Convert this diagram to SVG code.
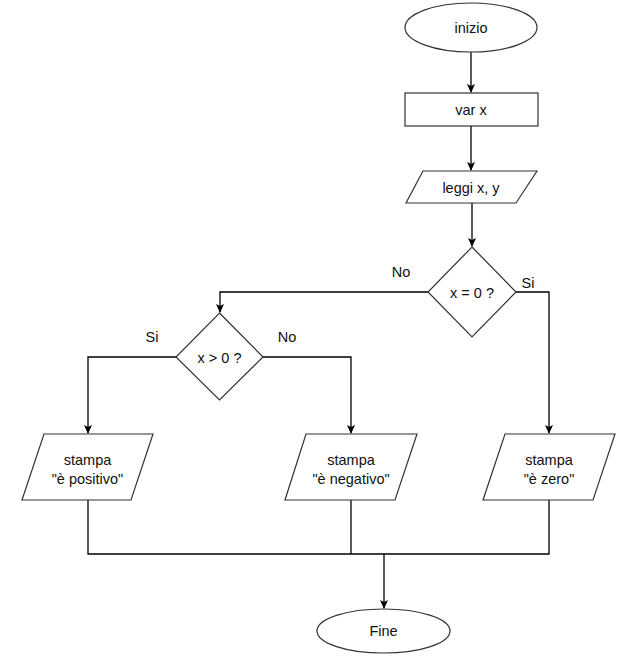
<svg xmlns="http://www.w3.org/2000/svg" width="621" height="667" viewBox="0 0 621 667">
<style>
.s{fill:#fff;stroke:#333;stroke-width:1.2}
.c{fill:none;stroke:#000;stroke-width:1.3}
text{font-family:"Liberation Sans",Arial,sans-serif;font-size:14.5px;fill:#111;text-anchor:middle}
</style>
<defs>
<marker id="a" markerWidth="10" markerHeight="10" refX="8" refY="5" orient="auto" markerUnits="userSpaceOnUse">
<path d="M0,1 L9,5 L0,9 L2,5 Z" fill="#000"/>
</marker>
</defs>
<rect width="621" height="667" fill="#fff"/>
<g id="connectors">
<path class="c" d="M471,52 V92" marker-end="url(#a)"/>
<path class="c" d="M471,126 V170" marker-end="url(#a)"/>
<path class="c" d="M472,203 V246" marker-end="url(#a)"/>
<path class="c" d="M428,292 H220 V312" marker-end="url(#a)"/>
<path class="c" d="M516,292 H549 V433" marker-end="url(#a)"/>
<path class="c" d="M176,357 H88 V433" marker-end="url(#a)"/>
<path class="c" d="M263,357 H351 V433" marker-end="url(#a)"/>
<path class="c" d="M88,500 V554 H549 V500"/>
<path class="c" d="M351,500 V554"/>
<path class="c" d="M384,554 V608" marker-end="url(#a)"/>
<text x="401" y="277">No</text>
<text x="528" y="288">Si</text>
<text x="152" y="342">Si</text>
<text x="287" y="342">No</text>
</g>
<g id="inizio">
<ellipse class="s" cx="471" cy="27.5" rx="66" ry="24.5"/>
<text x="471" y="32.5">inizio</text>
</g>
<g id="varx">
<rect class="s" x="405" y="93" width="133" height="33"/>
<text x="471" y="115">var x</text>
</g>
<g id="leggi">
<polygon class="s" points="423,171 537,171 516,203 406,203"/>
<text x="471" y="192.5">leggi x, y</text>
</g>
<g id="cond1">
<polygon class="s" points="472,247 516,292 472,337 428,292"/>
<text x="472" y="297.5">x = 0 ?</text>
</g>
<g id="cond2">
<polygon class="s" points="219.5,313 263,357 219.5,400 176,357"/>
<text x="219.5" y="362.5">x &gt; 0 ?</text>
</g>
<g id="positivo">
<polygon class="s" points="44,434 153,434 131,500 22,500"/>
<text x="87.5" y="465">stampa</text>
<text x="87.5" y="484">"è positivo"</text>
</g>
<g id="negativo">
<polygon class="s" points="306,434 417,434 395,500 285,500"/>
<text x="351" y="465">stampa</text>
<text x="351" y="484">"è negativo"</text>
</g>
<g id="zero">
<polygon class="s" points="505,434 615,434 593,500 483,500"/>
<text x="549" y="465">stampa</text>
<text x="549" y="484">"è zero"</text>
</g>
<g id="fine">
<ellipse class="s" cx="383.5" cy="631" rx="66.5" ry="22"/>
<text x="383.5" y="636">Fine</text>
</g>
</svg>
